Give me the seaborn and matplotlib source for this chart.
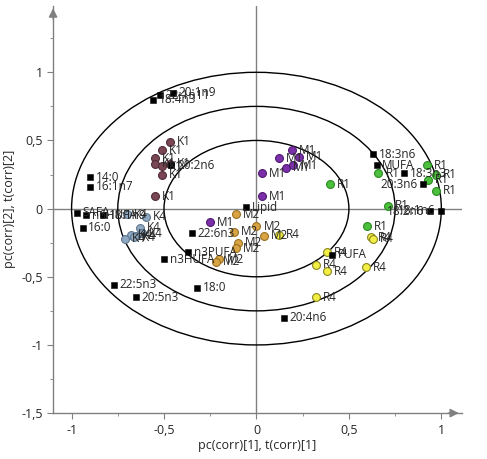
import numpy as np
import pandas as pd
import seaborn as sns
import matplotlib.pyplot as plt
from matplotlib.patches import Ellipse
from matplotlib.ticker import MultipleLocator, FuncFormatter

# loadings (black squares)
var_names = ["20:1n9", "22:1n11", "18:4n3", "14:0", "16:1n7", "20:2n6", "SAFA", "n6HUFA",
             "18:1n9", "16:0", "22:6n3", "n3PUFA", "n3HUFA", "22:5n3", "20:5n3", "18:0",
             "Lipid", "20:4n6", "PUFA", "18:3n6", "MUFA", "18:3n3", "20:3n6", "18:2n6", "18:1n6"]
var_x = [-0.45, -0.52, -0.56, -0.90, -0.90, -0.46, -0.97, -0.92,
         -0.83, -0.94, -0.35, -0.37, -0.50, -0.77, -0.65, -0.32,
         -0.055, 0.15, 0.41, 0.63, 0.65, 0.80, 0.90, 0.94, 1.00]
var_y = [0.85, 0.83, 0.80, 0.23, 0.16, 0.32, -0.03, -0.05,
         -0.05, -0.14, -0.18, -0.32, -0.37, -0.56, -0.65, -0.58,
         0.01, -0.80, -0.34, 0.40, 0.32, 0.26, 0.18, -0.02, -0.015]
left_labels = {"20:3n6", "18:2n6", "18:1n6"}

# scores (coloured dots)
groups = ["K1"] * 8 + ["K4"] * 8 + ["M1"] * 8 + ["M2"] * 8 + ["R1"] * 8 + ["R4"] * 8
score_x = [-0.47, -0.51, -0.55, -0.55, -0.51, -0.47, -0.51, -0.55,
           -0.70, -0.60, -0.63, -0.68, -0.71, -0.65, -0.62, -0.66,
           0.19, 0.23, 0.12, 0.16, 0.20, 0.03, 0.03, -0.25,
           -0.11, 0.00, -0.12, 0.04, -0.10, -0.11, -0.20, -0.22,
           0.40, 0.66, 0.92, 0.97, 0.93, 0.97, 0.71, 0.60,
           0.62, 0.63, 0.38, 0.32, 0.38, 0.59, 0.32, 0.12]
score_y = [0.49, 0.43, 0.37, 0.33, 0.31, 0.33, 0.25, 0.09,
           -0.04, -0.06, -0.14, -0.19, -0.22, -0.20, -0.18, -0.21,
           0.43, 0.38, 0.37, 0.30, 0.32, 0.26, 0.09, -0.10,
           -0.04, -0.13, -0.17, -0.20, -0.25, -0.29, -0.37, -0.39,
           0.18, 0.26, 0.32, 0.25, 0.21, 0.13, 0.02, -0.13,
           -0.21, -0.22, -0.32, -0.41, -0.46, -0.43, -0.65, -0.19]

colors = {"K1": ("#7A4654", "#4E2A36"), "K4": ("#8FA9C2", "#5E7890"),
          "M1": ("#7B2FA8", "#4E1A72"), "M2": ("#D9A444", "#9A7020"),
          "R1": ("#4CC03C", "#2A8A22"), "R4": ("#F2EE44", "#8C8820")}

sns.set_style("white")
plt.rcParams['font.family'] = ['Open Sans', 'DejaVu Sans']

fig = plt.figure(figsize=(4.87, 4.59), dpi=100)
ax = fig.add_axes([0.109, 0.100, 0.839, 0.888])

scores = pd.DataFrame({"group": groups, "x": score_x, "y": score_y})
loads = pd.DataFrame({"name": var_names, "x": var_x, "y": var_y})

# circles r = 1, 0.75, 0.5 (ellipses on screen)
for r in [1.0, 0.75, 0.5]:
    ax.add_patch(Ellipse((0, 0), 2 * r, 2 * r, fill=False, lw=1.0, color="black", zorder=1))

ax.axhline(0, color="#808080", lw=1.0, zorder=0)
ax.axvline(0, color="#808080", lw=1.0, zorder=0)

for g, sub in scores.groupby("group", sort=False):
    face, edge = colors[g]
    sns.scatterplot(data=sub, x="x", y="y", ax=ax, color=face, edgecolor=edge,
                    linewidth=0.8, s=32, zorder=3, legend=False)
for _, row in scores.iterrows():
    ax.annotate(row["group"], (row["x"], row["y"]), xytext=(5, 0), textcoords="offset points",
                va="center", ha="left", fontsize=8.5, zorder=4)

sns.scatterplot(data=loads, x="x", y="y", ax=ax, marker="s", color="black", edgecolor="black",
                s=22, zorder=3, legend=False)
for _, row in loads.iterrows():
    if row["name"] in left_labels:
        ax.annotate(row["name"], (row["x"], row["y"]), xytext=(-4, 0), textcoords="offset points",
                    va="center", ha="right", fontsize=8.5, zorder=4)
    else:
        ax.annotate(row["name"], (row["x"], row["y"]), xytext=(4, 0), textcoords="offset points",
                    va="center", ha="left", fontsize=8.5, zorder=4)

ax.set_xlim(-1.1, 1.11)
ax.set_ylim(-1.5, 1.49)

for side in ["top", "right"]:
    ax.spines[side].set_visible(False)
for side in ["left", "bottom"]:
    ax.spines[side].set_color("#808080")
    ax.spines[side].set_linewidth(1.0)

# arrow heads on the axes
ax.annotate("", xy=(1.0, 0), xycoords="axes fraction", xytext=(0.96, 0),
            arrowprops=dict(arrowstyle="-|>", color="#808080", lw=1.0, mutation_scale=13),
            annotation_clip=False)
ax.annotate("", xy=(0, 1.0), xycoords="axes fraction", xytext=(0, 0.96),
            arrowprops=dict(arrowstyle="-|>", color="#808080", lw=1.0, mutation_scale=13),
            annotation_clip=False)

fmt = FuncFormatter(lambda v, p: ("%g" % v).replace(".", ","))
ax.xaxis.set_major_locator(MultipleLocator(0.5))
ax.xaxis.set_minor_locator(MultipleLocator(0.25))
ax.yaxis.set_major_locator(MultipleLocator(0.5))
ax.yaxis.set_minor_locator(MultipleLocator(0.25))
ax.set_yticks([-1.5, -1, -0.5, 0, 0.5, 1])
ax.xaxis.set_major_formatter(fmt)
ax.yaxis.set_major_formatter(fmt)
ax.tick_params(which="both", direction="out", color="#808080", labelsize=9)
ax.tick_params(which="major", length=4, width=0.8)
ax.tick_params(which="minor", length=2, width=0.6)
ax.tick_params(axis="x", which="both", bottom=True)
ax.tick_params(axis="y", which="both", left=True)

ax.set_xlabel("pc(corr)[1], t(corr)[1]", fontsize=9, labelpad=2)
ax.set_ylabel("pc(corr)[2], t(corr)[2]", fontsize=9)

fig.savefig("out.png", dpi=100)
